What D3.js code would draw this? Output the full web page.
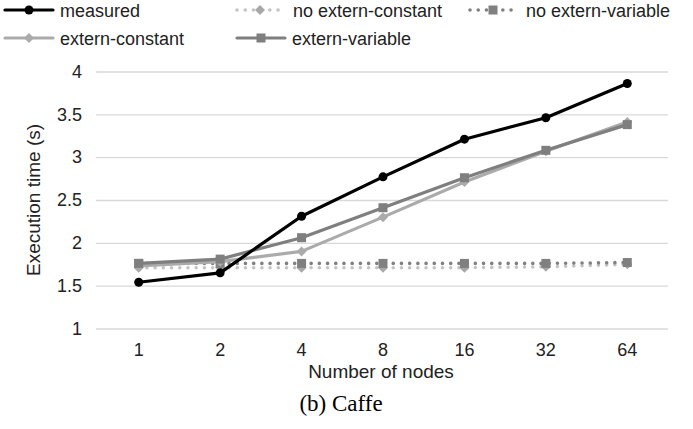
<!DOCTYPE html>
<html>
<head>
<meta charset="utf-8">
<script src="https://cdn.jsdelivr.net/npm/d3@7"></script>
<style>
  body { margin: 0; background: #fff; }
  text { font-family: 'Liberation Sans', Arial, sans-serif; }
</style>
</head>
<body>
<div id="content"></div>
<script>
// Data
let nodes = ['1', '2', '4', '8', '16', '32', '64'];
let measured = [1.54, 1.65, 2.31, 2.77, 3.21, 3.46, 3.86];
let noExternConstant = [1.71, 1.71, 1.71, 1.71, 1.71, 1.72, 1.75];
let noExternVariable = [1.76, 1.76, 1.76, 1.76, 1.76, 1.76, 1.77];
let externConstant = [1.73, 1.78, 1.90, 2.30, 2.71, 3.07, 3.41];
let externVariable = [1.76, 1.81, 2.06, 2.41, 2.76, 3.08, 3.38];
let yTicks = [1, 1.5, 2, 2.5, 3, 3.5, 4];

let series = [
  {name: 'measured', values: measured, color: '#000', marker: 'circle', dotted: false},
  {name: 'no extern-constant', values: noExternConstant, color: '#c4c4c4', markerColor: '#a8a8a8', marker: 'diamond', dotted: true},
  {name: 'no extern-variable', values: noExternVariable, color: '#808080', marker: 'square', dotted: true},
  {name: 'extern-constant', values: externConstant, color: '#ababab', marker: 'diamond', dotted: false},
  {name: 'extern-variable', values: externVariable, color: '#7f7f7f', marker: 'square', dotted: false}
];
// draw order: measured on top
let drawOrder = [1, 2, 3, 4, 0];

let width = 693;
let height = 429;

let svg = d3.select('#content')
            .append('svg')
            .attr('width', width)
            .attr('height', height);

let x = d3.scaleBand()
          .domain(nodes)
          .range([98, 668]);

let y = d3.scaleLinear()
          .domain([1, 4])
          .range([328.5, 71.5]);

let cx = (d) => x(d) + x.bandwidth() / 2;

// Gridlines + y labels
let yAxis = svg.append('g')
               .attr('transform', 'translate(96,0)')
               .call(d3.axisLeft(y).tickValues(yTicks).tickSize(-572).tickPadding(14).tickFormat(d3.format('')));
yAxis.select('.domain').remove();
yAxis.selectAll('line').attr('stroke', '#d9d9d9').attr('stroke-width', 1.3);
yAxis.selectAll('text').attr('font-size', 18).attr('fill', '#222').style('font-family', "'Liberation Sans', Arial, sans-serif");

// x labels
let xAxis = svg.append('g')
               .attr('transform', 'translate(0,330)')
               .call(d3.axisBottom(x).tickSize(0).tickPadding(13));
xAxis.select('.domain').remove();
xAxis.selectAll('text').attr('font-size', 18).attr('fill', '#222').style('font-family', "'Liberation Sans', Arial, sans-serif");

// Axis titles and caption
svg.append('text')
   .attr('transform', 'translate(40,200) rotate(-90)')
   .attr('text-anchor', 'middle')
   .attr('font-size', 19)
   .attr('fill', '#222')
   .text('Execution time (s)');

svg.append('text')
   .attr('x', 381)
   .attr('y', 378)
   .attr('text-anchor', 'middle')
   .attr('font-size', 19)
   .attr('fill', '#222')
   .text('Number of nodes');

svg.append('text')
   .attr('x', 341)
   .attr('y', 411)
   .attr('text-anchor', 'middle')
   .attr('font-size', 23)
   .style('font-family', "'Liberation Serif', 'Times New Roman', serif")
   .attr('fill', '#000')
   .text('(b) Caffe');

function drawMarker(g, type, px, py, color) {
  if (type === 'circle') {
    g.append('circle').attr('cx', px).attr('cy', py).attr('r', 4.5).attr('fill', color);
  } else if (type === 'square') {
    g.append('rect').attr('x', px - 4.5).attr('y', py - 4.5).attr('width', 9).attr('height', 9).attr('fill', color);
  } else {
    g.append('path')
     .attr('d', 'M' + px + ',' + (py - 5) + 'L' + (px + 5) + ',' + py + 'L' + px + ',' + (py + 5) + 'L' + (px - 5) + ',' + py + 'Z')
     .attr('fill', color);
  }
}

let line = d3.line()
             .x((d, i) => cx(nodes[i]))
             .y((d) => y(d));

// Lines + markers
drawOrder.forEach((k) => {
  let s = series[k];
  let g = svg.append('g');
  g.append('path')
   .attr('d', line(s.values))
   .attr('fill', 'none')
   .attr('stroke', s.color)
   .attr('stroke-width', s.dotted ? 3.6 : 3.2)
   .attr('stroke-linecap', 'round')
   .attr('stroke-linejoin', 'round')
   .attr('stroke-dasharray', s.dotted ? '0.01,8.2' : null);
  s.values.forEach((v, i) => drawMarker(g, s.marker, cx(nodes[i]), y(v), s.markerColor || s.color));
});

// Legend
let legendPos = [[5, 10], [237, 10], [470, 10], [5, 38], [237, 38]];
series.forEach((s, k) => {
  let lx = legendPos[k][0];
  let ly = legendPos[k][1];
  let g = svg.append('g');
  let len = s.dotted ? 46 : 48;
  g.append('line')
   .attr('x1', lx).attr('x2', lx + len)
   .attr('y1', ly).attr('y2', ly)
   .attr('stroke', s.color)
   .attr('stroke-width', s.dotted ? 3.6 : 3.2)
   .attr('stroke-linecap', 'round')
   .attr('stroke-dasharray', s.dotted ? '0.01,8.2' : null);
  drawMarker(g, s.marker, lx + len / 2, ly, s.markerColor || s.color);
  g.append('text')
   .attr('x', lx + (s.dotted ? 56 : 55))
   .attr('y', ly + 6.5)
   .attr('font-size', 18)
   .attr('fill', '#222')
   .text(s.name);
});
</script>
</body>
</html>
